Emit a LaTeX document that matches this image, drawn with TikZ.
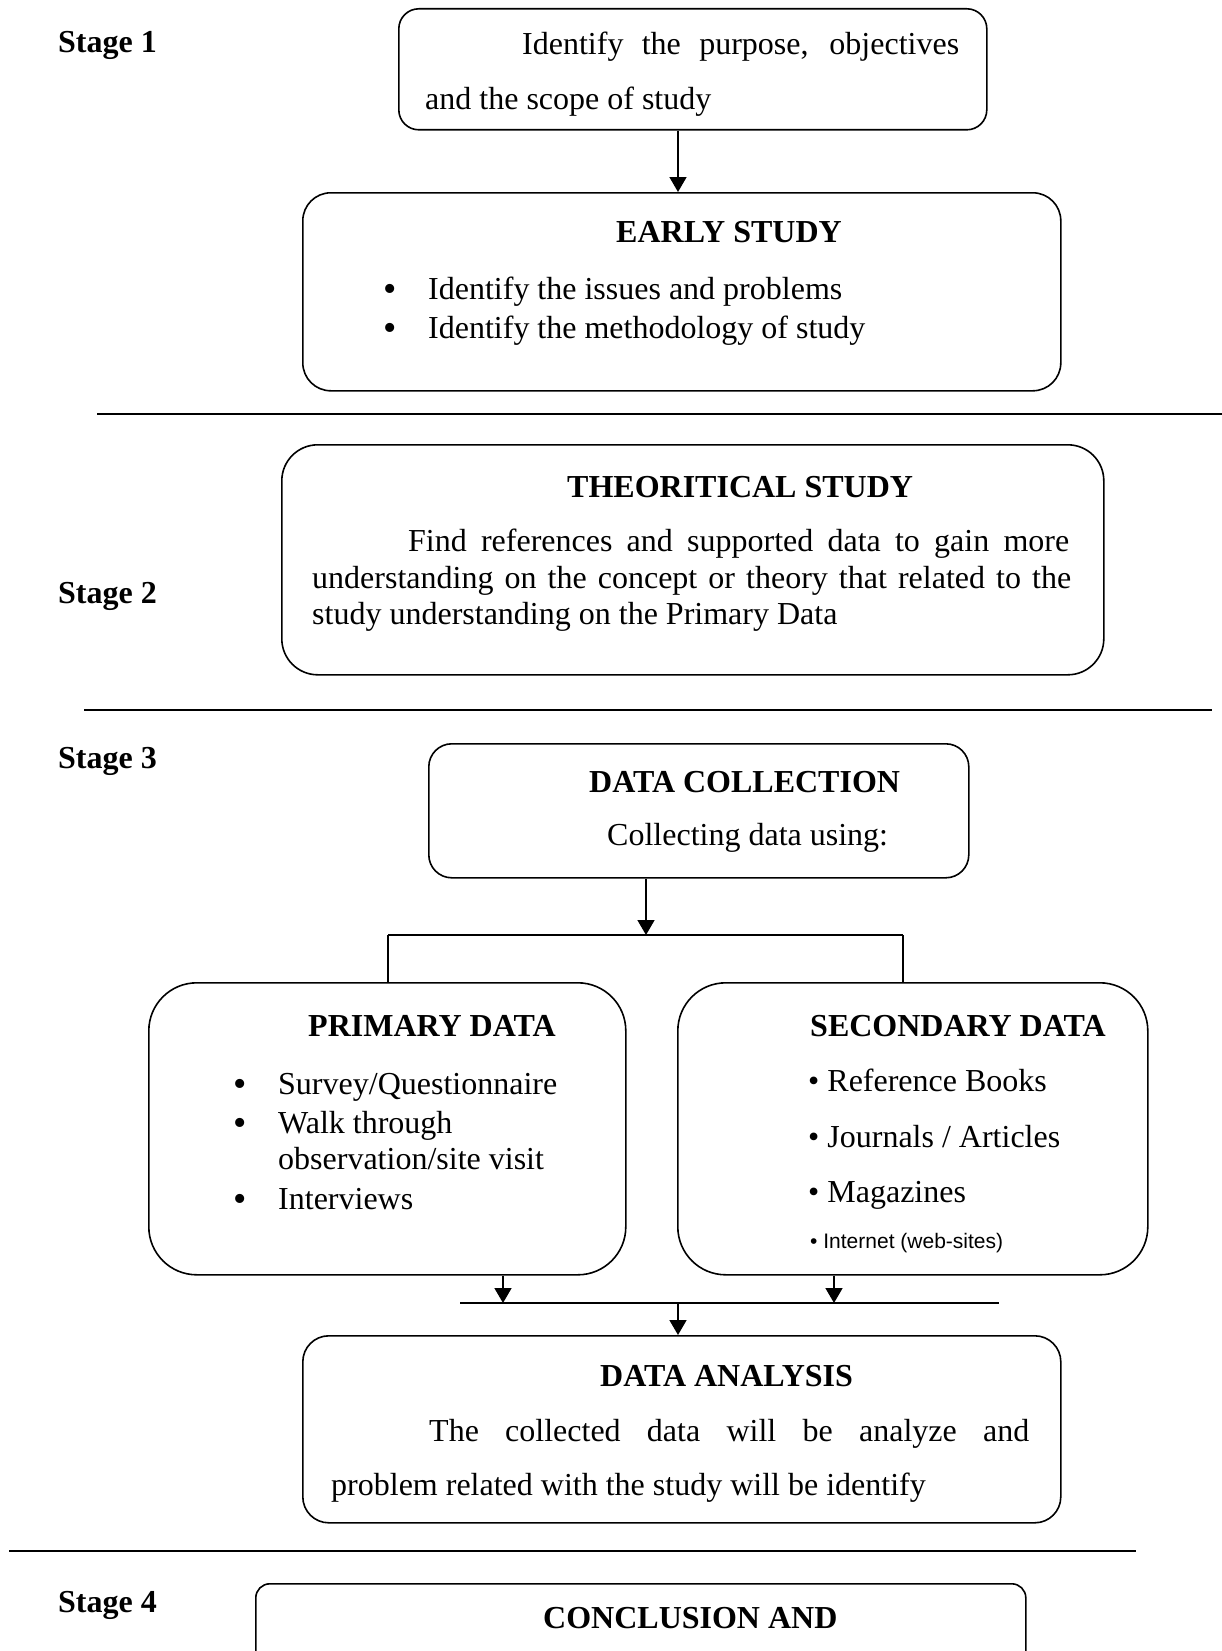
\documentclass[tikz,border=0pt]{standalone}
\usepackage{fontspec}
\setmainfont{Liberation Serif}
\newfontfamily\arialf{Liberation Sans}
\usetikzlibrary{arrows.meta}
\newcommand{\bigbul}{\makebox[45pt][l]{\raisebox{-2pt}{\fontsize{38}{38}\selectfont •}}}
\begin{document}
\begin{tikzpicture}[x=1pt,y=-1pt,
  box/.style={draw, line width=1.6pt, anchor=north west, inner sep=0pt},
  txt/.style={anchor=base west, inner sep=0pt, font=\fontsize{32}{36}\selectfont},
  hd/.style={anchor=base west, inner sep=0pt, font=\fontsize{32}{36}\selectfont\bfseries},
  small/.style={anchor=base west, inner sep=0pt, font=\fontsize{21}{24}\arialf},
  arr/.style={line width=1.6pt, -{Triangle[width=17pt,length=15pt]}},
  ln/.style={line width=1.6pt},
  sep/.style={line width=2pt}]
\useasboundingbox (0,0) rectangle (1222,1651);

% stage labels
\node[hd] (s1) at (58,53) {Stage 1};
\node[hd] (s2) at (58,603) {Stage 2};
\node[hd] (s3) at (58,768) {Stage 3};
\node[hd] (s4) at (58,1612) {Stage 4};

% separators
\draw[sep] (97,414) -- (1222,414);
\draw[sep] (84,710) -- (1212,710);
\draw[sep] (9,1551) -- (1136,1551);

% box 1
\node[box, rounded corners=20pt, minimum width=588pt, minimum height=121pt] (box1) at (398,8) {};
\node[txt] (b1l1) at (522,55) {\makebox[437pt][s]{Identify the purpose, objectives}};
\node[txt] (b1l2) at (425,110) {and the scope of study};

% box 2
\node[box, rounded corners=28pt, minimum width=758pt, minimum height=198pt] (box2) at (302,192) {};
\node[hd] (b2h) at (616,242) {EARLY STUDY};
\node[txt] (b2l1) at (383,299) {\bigbul Identify the issues and problems};
\node[txt] (b2l2) at (383,338) {\bigbul Identify the methodology of study};

% box 3
\node[box, rounded corners=36pt, minimum width=822pt, minimum height=230pt] (box3) at (281,444) {};
\node[hd] (b3h) at (567,497) {THEORITICAL STUDY};
\node[txt] (b3l1) at (408,551) {\makebox[661pt][s]{Find references and supported data to gain more}};
\node[txt] (b3l2) at (312,588) {\makebox[759pt][s]{understanding on the concept or theory that related to the}};
\node[txt] (b3l3) at (312,624) {study understanding on the Primary Data};

% box 4
\node[box, rounded corners=23pt, minimum width=540pt, minimum height=134pt] (box4) at (428,743) {};
\node[hd] (b4h) at (589,792) {DATA COLLECTION};
\node[txt] (b4l1) at (607,845) {Collecting data using:};

% box 5 primary
\node[box, rounded corners=48pt, minimum width=477pt, minimum height=292pt] (box5) at (148,982) {};
\node[hd] (b5h) at (308,1036) {PRIMARY DATA};
\node[txt] (b5l1) at (233,1094) {\bigbul Survey/Questionnaire};
\node[txt] (b5l2) at (233,1133) {\bigbul Walk through};
\node[txt] (b5l3) at (278,1169) {observation/site visit};
\node[txt] (b5l4) at (233,1209) {\bigbul Interviews};

% box 6 secondary
\node[box, rounded corners=48pt, minimum width=470pt, minimum height=292pt] (box6) at (677,982) {};
\node[hd] (b6h) at (810,1036) {SECONDARY DATA};
\node[txt] (b6l1) at (808,1091) {• Reference Books};
\node[txt] (b6l2) at (808,1147) {• Journals / Articles};
\node[txt] (b6l3) at (808,1202) {• Magazines};
\node[small] (b6l4) at (810,1248) {• Internet (web-sites)};

% box 7
\node[box, rounded corners=26pt, minimum width=758pt, minimum height=187pt] (box7) at (302,1335) {};
\node[hd] (b7h) at (600,1386) {DATA ANALYSIS};
\node[txt] (b7l1) at (429,1441) {\makebox[600pt][s]{The collected data will be analyze and}};
\node[txt] (b7l2) at (331,1495) {problem related with the study will be identify};

% box 8
\begin{scope}
\clip (0,0) rectangle (1222,1651);
\node[box, rounded corners=14pt, minimum width=770pt, minimum height=160pt] (box8) at (255,1583) {};
\end{scope}
\node[hd] (b8h) at (543,1628) {CONCLUSION AND};

% connectors
\coordinate (c1) at (678,0);
\draw[arr] (box1.south -| c1) -- (box2.north -| c1);

\coordinate (c2) at (646,0);
\coordinate (brL) at (388,935);
\coordinate (brR) at (903,935);
\draw[arr] (box4.south -| c2) -- (c2 |- brL);
\draw[ln] (brL) -- (brR);
\draw[ln] (brL) -- (brL |- box5.north);
\draw[ln] (brR) -- (brR |- box6.north);

\coordinate (mL) at (460,1303);
\coordinate (mR) at (999,1303);
\draw[sep] (mL) -- (mR);
\coordinate (p1) at (503,0);
\coordinate (p2) at (834,0);
\coordinate (p3) at (678,0);
\draw[arr] (box5.south -| p1) -- (p1 |- mL);
\draw[arr] (box6.south -| p2) -- (p2 |- mL);
\draw[arr] (p3 |- mL) -- (box7.north -| p3);
\end{tikzpicture}
\end{document}
